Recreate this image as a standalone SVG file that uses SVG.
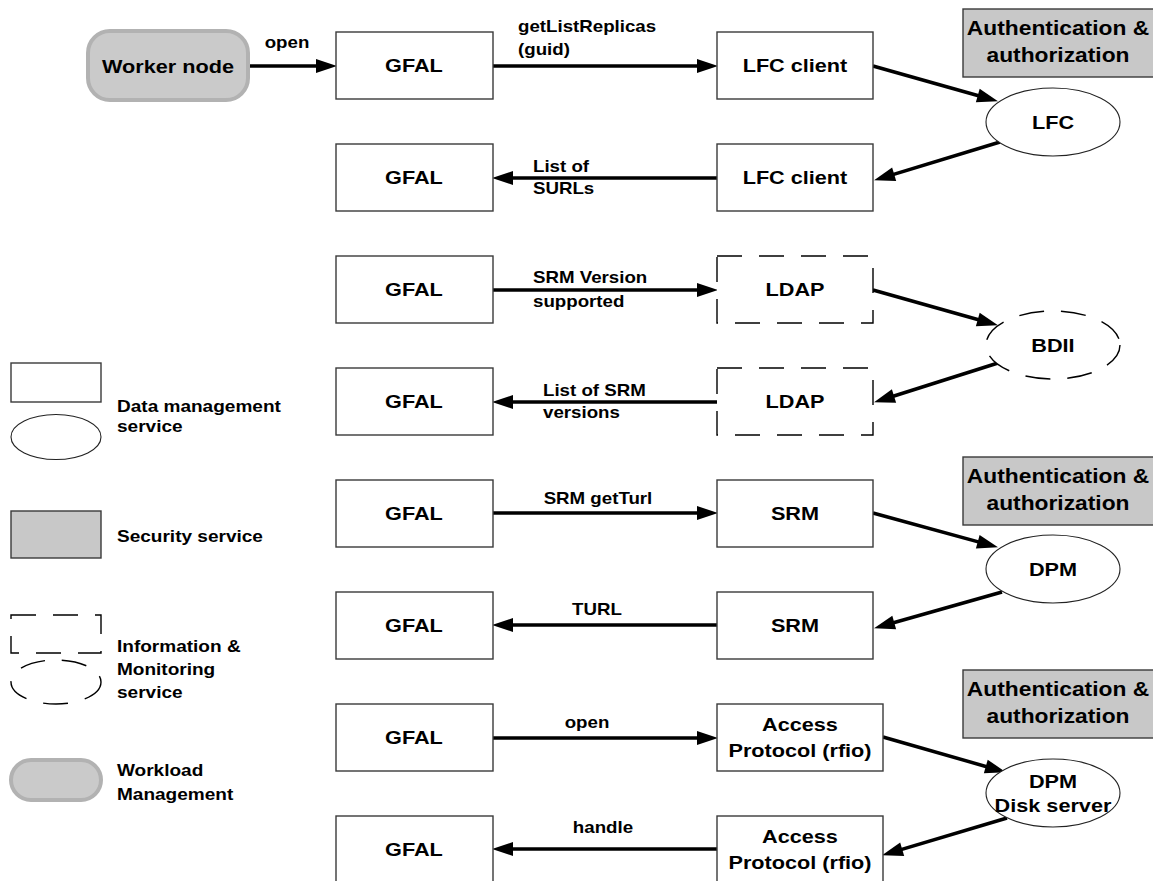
<svg xmlns="http://www.w3.org/2000/svg" width="1153" height="881" viewBox="0 0 1153 881">
  <defs>
    <marker id="arrow" markerUnits="userSpaceOnUse" markerWidth="21" markerHeight="14" refX="10" refY="7" orient="auto" overflow="visible">
      <path d="M0,0 L21,7 L0,14 z" fill="#000"/>
    </marker>
    <style>
      text { font-family: "Liberation Sans", Arial, sans-serif; font-weight: bold; fill: #000; }
      .node { font-size: 19px; text-anchor: middle; }
      .auth { font-size: 20px; text-anchor: middle; }
      .lbl { font-size: 16.4px; }
      .mid { text-anchor: middle; }
      .leg { font-size: 16.7px; }
      /* glyphs are drawn slightly wide */
      .sx { transform-box: fill-box; transform-origin: center; transform: scaleX(1.14); }
      .sl { transform-box: fill-box; transform-origin: left center; transform: scaleX(1.14); }
      .box { fill: #fff; stroke: #3a3a3a; stroke-width: 1.4; }
      .dbox { fill: #fff; stroke: #000; stroke-width: 1.4; stroke-dasharray: 25 17; }
      .ell { fill: #fff; stroke: #222; stroke-width: 1.1; }
      .dell { fill: #fff; stroke: #000; stroke-width: 1.4; stroke-dasharray: 25 17; }
      .sec { fill: #c8c8c8; stroke: #3a3a3a; stroke-width: 1.4; }
      .wl { fill: #cacaca; stroke: #b2b2b2; stroke-width: 4; }
      .conn line { stroke: #000; stroke-width: 3.5; marker-end: url(#arrow); }
    </style>
  </defs>
  <rect width="1153" height="881" fill="#fff"/>

  <!-- connectors -->
  <g id="connectors" class="conn">
    <line x1="248" y1="66" x2="326" y2="66"/>
    <line x1="493" y1="66" x2="707" y2="66"/>
    <line x1="717" y1="178" x2="503" y2="178"/>
    <line x1="493" y1="290" x2="707" y2="290"/>
    <line x1="717" y1="402" x2="503" y2="402"/>
    <line x1="493" y1="513" x2="707" y2="513"/>
    <line x1="717" y1="625" x2="503" y2="625"/>
    <line x1="493" y1="738" x2="707" y2="738"/>
    <line x1="717" y1="849" x2="503" y2="849"/>
    <line x1="873" y1="66" x2="987.4" y2="98.3"/>
    <line x1="1000" y1="142" x2="884.6" y2="177.1"/>
    <line x1="873" y1="290" x2="987.4" y2="322.3"/>
    <line x1="998" y1="363" x2="884.5" y2="399"/>
    <line x1="873" y1="513" x2="987.4" y2="544.4"/>
    <line x1="1002" y1="592" x2="884.6" y2="625.3"/>
    <line x1="883" y1="737" x2="995.4" y2="769.2"/>
    <line x1="1007" y1="818" x2="892.6" y2="852.1"/>
  </g>

  <!-- connector labels -->
  <g id="labels" class="lbl">
    <text class="mid sx" x="287" y="48">open</text>
    <text class="sl" x="518" y="32">getListReplicas</text>
    <text class="sl" x="518" y="55">(guid)</text>
    <text class="sl" x="533" y="172">List of</text>
    <text class="sl" x="533" y="194">SURLs</text>
    <text class="sl" x="533" y="283">SRM Version</text>
    <text class="sl" x="533" y="307">supported</text>
    <text class="sl" x="543" y="396">List of SRM</text>
    <text class="sl" x="543" y="418">versions</text>
    <text class="mid sx" x="598" y="504">SRM getTurl</text>
    <text class="mid sx" x="597" y="615">TURL</text>
    <text class="mid sx" x="587" y="728">open</text>
    <text class="mid sx" x="603" y="833">handle</text>
  </g>

  <!-- workload management -->
  <g id="worker-node">
    <rect class="wl" x="88" y="31" width="160" height="69" rx="22"/>
    <text class="node sx" x="168" y="73">Worker node</text>
  </g>

  <!-- GFAL column -->
  <g id="gfal-1"><rect class="box" x="336" y="32" width="157" height="67"/><text class="node sx" x="414" y="72">GFAL</text></g>
  <g id="gfal-2"><rect class="box" x="336" y="144" width="157" height="67"/><text class="node sx" x="414" y="184">GFAL</text></g>
  <g id="gfal-3"><rect class="box" x="336" y="256" width="157" height="67"/><text class="node sx" x="414" y="296">GFAL</text></g>
  <g id="gfal-4"><rect class="box" x="336" y="368" width="157" height="67"/><text class="node sx" x="414" y="408">GFAL</text></g>
  <g id="gfal-5"><rect class="box" x="336" y="480" width="157" height="67"/><text class="node sx" x="414" y="520">GFAL</text></g>
  <g id="gfal-6"><rect class="box" x="336" y="592" width="157" height="67"/><text class="node sx" x="414" y="632">GFAL</text></g>
  <g id="gfal-7"><rect class="box" x="336" y="704" width="157" height="67"/><text class="node sx" x="414" y="744">GFAL</text></g>
  <g id="gfal-8"><rect class="box" x="336" y="816" width="157" height="67"/><text class="node sx" x="414" y="856">GFAL</text></g>

  <!-- client column -->
  <g id="lfc-client-1"><rect class="box" x="717" y="32" width="156" height="67"/><text class="node sx" x="795" y="72">LFC client</text></g>
  <g id="lfc-client-2"><rect class="box" x="717" y="144" width="156" height="67"/><text class="node sx" x="795" y="184">LFC client</text></g>
  <g id="ldap-1"><rect class="dbox" x="717" y="256" width="156" height="67"/><text class="node sx" x="795" y="296">LDAP</text></g>
  <g id="ldap-2"><rect class="dbox" x="717" y="368" width="156" height="67"/><text class="node sx" x="795" y="408">LDAP</text></g>
  <g id="srm-1"><rect class="box" x="717" y="480" width="156" height="67"/><text class="node sx" x="795" y="520">SRM</text></g>
  <g id="srm-2"><rect class="box" x="717" y="592" width="156" height="67"/><text class="node sx" x="795" y="632">SRM</text></g>
  <g id="rfio-1"><rect class="box" x="717" y="704" width="166" height="67"/><text class="node sx" x="800" y="731">Access</text><text class="node sx" x="800" y="757">Protocol (rfio)</text></g>
  <g id="rfio-2"><rect class="box" x="717" y="816" width="166" height="67"/><text class="node sx" x="800" y="843">Access</text><text class="node sx" x="800" y="869">Protocol (rfio)</text></g>

  <!-- services -->
  <g id="lfc"><ellipse class="ell" cx="1053" cy="122" rx="67" ry="34"/><text class="node sx" x="1053" y="129">LFC</text></g>
  <g id="bdii"><ellipse class="dell" cx="1053" cy="345" rx="67" ry="34"/><text class="node sx" x="1053" y="352">BDII</text></g>
  <g id="dpm"><ellipse class="ell" cx="1053" cy="569" rx="67" ry="34"/><text class="node sx" x="1053" y="576">DPM</text></g>
  <g id="dpm-disk"><ellipse class="ell" cx="1053" cy="793" rx="67" ry="34"/><text class="node sx" x="1053" y="788">DPM</text><text class="node sx" x="1053" y="812">Disk server</text></g>

  <!-- security services -->
  <g id="auth-1"><rect class="sec" x="963" y="9" width="195" height="68"/><text class="auth sx" x="1058" y="35">Authentication &amp;</text><text class="auth sx" x="1058" y="62">authorization</text></g>
  <g id="auth-2"><rect class="sec" x="963" y="457" width="195" height="68"/><text class="auth sx" x="1058" y="483">Authentication &amp;</text><text class="auth sx" x="1058" y="510">authorization</text></g>
  <g id="auth-3"><rect class="sec" x="963" y="670" width="195" height="68"/><text class="auth sx" x="1058" y="696">Authentication &amp;</text><text class="auth sx" x="1058" y="723">authorization</text></g>

  <!-- legend -->
  <g id="legend" class="leg">
    <rect class="box" x="11" y="363" width="90" height="39"/>
    <ellipse class="ell" cx="56" cy="437" rx="45" ry="22.5"/>
    <text class="sl" x="117" y="412">Data management</text>
    <text class="sl" x="117" y="432">service</text>
    <rect class="sec" x="11" y="511" width="90" height="47"/>
    <text class="sl" x="117" y="542">Security service</text>
    <rect class="dbox" x="11" y="615" width="90" height="38"/>
    <ellipse class="dell" cx="56" cy="682" rx="45" ry="22"/>
    <text class="sl" x="117" y="652">Information &amp;</text>
    <text class="sl" x="117" y="675">Monitoring</text>
    <text class="sl" x="117" y="698">service</text>
    <rect class="wl" x="11" y="760" width="90" height="40" rx="20"/>
    <text class="sl" x="117" y="776">Workload</text>
    <text class="sl" x="117" y="800">Management</text>
  </g>
</svg>
